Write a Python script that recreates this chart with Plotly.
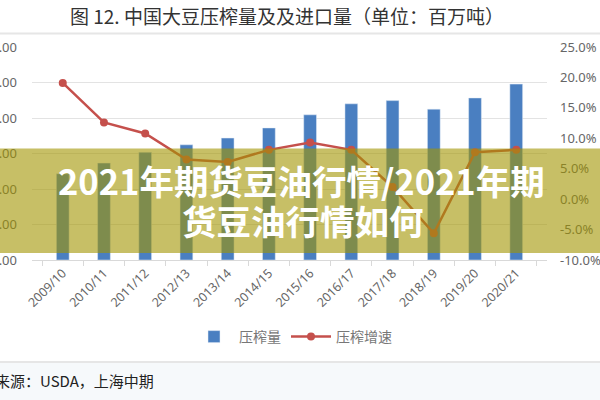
import plotly.graph_objects as go

categories = ["2009/10", "2010/11", "2011/12", "2012/13", "2013/14", "2014/15",
              "2015/16", "2016/17", "2017/18", "2018/19", "2019/20", "2020/21"]
crush = [48.6, 54.6, 60.7, 64.9, 68.7, 74.4, 81.8, 88.0, 89.8, 85.0, 91.3, 99.1]
growth = [19.1, 12.6, 10.8, 6.5, 6.1, 8.1, 9.3, 8.1, 2.0, -5.6, 7.7, 8.1]
left_ticks = [0, 20, 40, 60, 80, 100, 120]
right_ticks = [-10, -5, 0, 5, 10, 15, 20, 25]
right_labels = ["-10.0%", "-5.0%", "0.0%", "5.0%", "10.0%", "15.0%", "20.0%", "25.0%"]

title_text = "图 12. 中国大豆压榨量及及进口量（单位：百万吨）"
source_text = "来源：USDA，上海中期"
overlay_line1 = "2021年期货豆油行情/2021年期"
overlay_line2 = "货豆油行情如何"

W, H = 600, 400
L, R, T, B = 32, 53, 47, 140
PW, PH = W - L - R, H - T - B


def px(x):
    return (x - L) / PW


def py(y):
    return (H - B - y) / PH


fig = go.Figure()
fig.add_trace(go.Bar(x=categories, y=crush, name="压榨量", marker_color="#4a7fc1",
                     yaxis="y"))
fig.add_trace(go.Scatter(x=categories, y=growth, name="压榨增速", mode="lines+markers",
                         line=dict(color="#c5504c", width=2.5),
                         marker=dict(color="#c5504c", size=8), yaxis="y2"))

tickfont = dict(family="Noto Sans, DejaVu Sans", size=13, color="#666666")

fig.update_layout(
    width=W, height=H,
    margin=dict(l=L, r=R, t=T, b=B, autoexpand=False),
    paper_bgcolor="white", plot_bgcolor="white",
    bargap=0.69,
    showlegend=True,
    legend=dict(orientation="h", x=px(293), xanchor="center", y=py(337), yanchor="middle",
                font=dict(family="Noto Sans CJK SC", size=14, color="#777777"),
                itemwidth=40, bgcolor="rgba(0,0,0,0)"),
    xaxis=dict(type="category", tickangle=-45, showgrid=False, showline=True,
               linecolor="#d9d9d9", linewidth=1, ticks="outside", tickson="boundaries",
               ticklen=5, tickcolor="#d9d9d9",
               tickfont=dict(family="Noto Sans, DejaVu Sans", size=12.5, color="#666666"),
               automargin=False),
    yaxis=dict(range=[0, 120], tickvals=left_ticks, tickformat=".2f", showgrid=True,
               gridcolor="#e3e3e3", gridwidth=1, zeroline=False, showline=False,
               ticks="", ticklabelstandoff=14, tickfont=tickfont, automargin=False),
    yaxis2=dict(range=[-10, 25], tickvals=right_ticks, ticktext=right_labels,
                overlaying="y", side="right", showgrid=False, zeroline=False,
                showline=False, ticks="", ticklabelstandoff=12, tickfont=tickfont,
                automargin=False),
)

shapes = [
    dict(type="line", xref="paper", yref="paper", x0=px(0), x1=px(600), y0=py(33.5), y1=py(33.5),
         line=dict(color="#e6e6e6", width=2), layer="above"),
    dict(type="rect", xref="paper", yref="paper", x0=px(0), x1=px(600), y0=py(362), y1=py(400),
         fillcolor="#f6f9fb", line=dict(width=0), layer="below"),
    dict(type="line", xref="paper", yref="paper", x0=px(0), x1=px(600), y0=py(362), y1=py(362),
         line=dict(color="#e6e6e6", width=2), layer="above"),
    dict(type="rect", xref="paper", yref="paper", x0=px(0), x1=px(600), y0=py(253), y1=py(148.5),
         fillcolor="rgba(162,148,0,0.6)", line=dict(width=0), layer="above"),
]
fig.update_layout(shapes=shapes)

annotations = [
    dict(text=title_text, xref="paper", yref="paper", x=px(287), y=py(15), showarrow=False,
         xanchor="center", yanchor="middle",
         font=dict(family="Noto Sans CJK SC", size=19, color="#333333")),
    dict(text=source_text, xref="paper", yref="paper", x=px(-7), y=py(380), showarrow=False,
         xanchor="left", yanchor="middle",
         font=dict(family="Noto Sans CJK SC", size=15, color="#222222")),
    dict(text="<b>" + overlay_line1 + "</b>", xref="paper", yref="paper", x=px(301), y=py(180),
         showarrow=False, xanchor="center", yanchor="middle",
         font=dict(family="Noto Sans CJK SC", size=34.5, color="white")),
    dict(text="<b>" + overlay_line2 + "</b>", xref="paper", yref="paper", x=px(303), y=py(220),
         showarrow=False, xanchor="center", yanchor="middle",
         font=dict(family="Noto Sans CJK SC", size=34.5, color="white")),
]
fig.update_layout(annotations=annotations)

fig.write_html("out.html")
